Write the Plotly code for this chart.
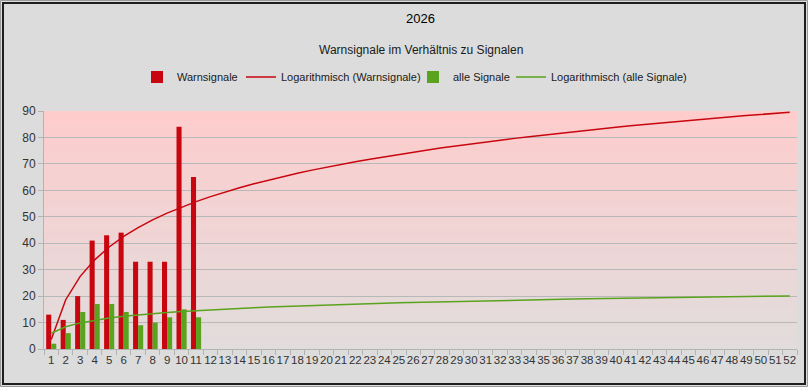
import numpy as np
import plotly.graph_objects as go

weeks = list(range(1, 53))
week_labels = [str(w) for w in weeks]
data_weeks = list(range(1, 12))
warnsignale = [13, 11, 20, 41, 43, 44, 33, 33, 33, 84, 65]
alle_signale = [2, 6, 14, 17, 17, 14, 9, 10, 12, 15, 12]

RED = "#c8060f"
GREEN = "#5aa31e"
FONT = "Liberation Sans, Arial, sans-serif"

W, H = 808, 387
ML, MR, MT, MB = 44, 11, 111, 38
PW, PH = W - ML - MR, H - MT - MB


def log_fit(xs, ys):
    lx = np.log(np.array(xs, dtype=float))
    a, b = np.polyfit(lx, np.array(ys, dtype=float), 1)
    return a, b


ar, br = log_fit(data_weeks, warnsignale)
ag, bg = log_fit(data_weeks, alle_signale)
wk = np.array(weeks, dtype=float)
trend_r = ar * np.log(wk) + br
trend_g = ag * np.log(wk) + bg

fig = go.Figure()
fig.add_trace(go.Bar(x=data_weeks, y=warnsignale, name="Warnsignale",
                     marker=dict(color=RED, line=dict(width=0)), offsetgroup="a",
                     legend="legend", showlegend=True))
fig.add_trace(go.Scatter(x=weeks, y=trend_r, mode="lines",
                         name="Logarithmisch (Warnsignale)",
                         line=dict(color=RED, width=1.5), legend="legend2"))
fig.add_trace(go.Bar(x=data_weeks, y=alle_signale, name="alle Signale",
                     marker=dict(color=GREEN, line=dict(width=0)), offsetgroup="b",
                     legend="legend3"))
fig.add_trace(go.Scatter(x=weeks, y=trend_g, mode="lines",
                         name="Logarithmisch (alle Signale)",
                         line=dict(color=GREEN, width=1.5), legend="legend4"))

shapes = []
n = 60
top = np.array([255, 204, 204])
bot = np.array([226, 220, 220])
for i in range(n):
    t = i / (n - 1)
    c = top * (1 - t) + bot * t
    shapes.append(dict(type="rect", xref="paper", yref="paper", x0=0, x1=1,
                       y0=1 - (i + 1) / n, y1=1 - i / n, layer="below",
                       line=dict(width=0),
                       fillcolor="rgb(%d,%d,%d)" % tuple(c.round())))


def frame(inset, color, width):
    return dict(type="rect", xref="paper", yref="paper",
                x0=-(ML - inset) / PW, x1=1 + (MR - inset) / PW,
                y0=-(MB - inset) / PH, y1=1 + (MT - inset) / PH,
                line=dict(color=color, width=width), fillcolor="rgba(0,0,0,0)",
                layer="above")


shapes.append(frame(0.5, "#9a9a9a", 1))
shapes.append(frame(3, "#1e1e1e", 2))


def leg(text_x):
    return dict(orientation="h", xref="container", yref="container",
                x=(text_x - 40) / W, xanchor="left", y=1 - 77 / H, yanchor="middle",
                bgcolor="rgba(0,0,0,0)", font=dict(size=11, color="#1a1a1a"),
                itemwidth=30, borderwidth=0)


fig.update_layout(
    width=W, height=H,
    showlegend=True,
    margin=dict(l=ML, r=MR, t=MT, b=MB),
    paper_bgcolor="#dcdcdc",
    plot_bgcolor="rgba(0,0,0,0)",
    font=dict(family=FONT, size=12, color="#333333"),
    barmode="group", bargap=0.3, bargroupgap=0,
    title=dict(text="2026", x=0.5, xanchor="center", xref="paper",
               y=1 - 18 / H, yanchor="middle", yref="container",
               font=dict(size=13, color="#000000", family=FONT)),
    annotations=[dict(text="Warnsignale im Verhältnis zu Signalen",
                      xref="paper", yref="paper", x=0.5, y=(H - MB - 50) / PH,
                      xanchor="center", yanchor="middle", showarrow=False,
                      font=dict(size=12, color="#1a1a1a", family=FONT))],
    legend=leg(177), legend2=leg(281), legend3=leg(453), legend4=leg(551),
    shapes=shapes,
    xaxis=dict(range=[0.5, 52.5], tickmode="array", tickvals=weeks,
               ticktext=week_labels, tickangle=0, ticks="", showgrid=False,
               showline=True, linecolor="#b3b3b3", linewidth=1,
               tickfont=dict(size=11.5, color="#333333"),
               minor=dict(ticks="outside", tick0=0.5, dtick=1, ticklen=5,
                          tickcolor="#b3b3b3", showgrid=False),
               zeroline=False, fixedrange=True),
    yaxis=dict(range=[0, 90], tick0=0, dtick=10, showgrid=True,
               gridcolor="#b8b8b8", gridwidth=1, ticks="outside", ticklen=5,
               tickcolor="#b3b3b3", showline=True, linecolor="#b3b3b3",
               zeroline=False, tickfont=dict(size=12, color="#333333"),
               fixedrange=True),
)

fig.write_html("out.html", config={"displayModeBar": False},
               post_script="document.body.style.margin='0';document.body.style.overflow='hidden';")
